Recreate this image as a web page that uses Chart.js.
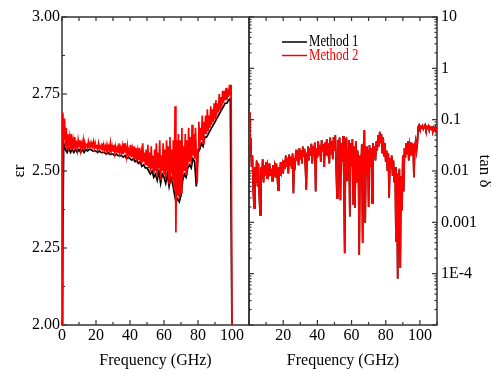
<!DOCTYPE html>
<html>
<head>
<meta charset="utf-8">
<script src="https://cdn.jsdelivr.net/npm/chart.js@4.4.1/dist/chart.umd.min.js"></script>
<style>
  html, body { margin: 0; padding: 0; background: #fff; overflow: hidden; }
  #wrap { position: relative; width: 491px; height: 373px; overflow: hidden; }
  #eps-chart { position: absolute; left: 0; top: 0; }
  #tan-chart { position: absolute; left: 245px; top: 0; }
</style>
</head>
<body>
<div id="wrap">
  <canvas id="eps-chart" width="250" height="373"></canvas>
  <canvas id="tan-chart" width="250" height="373"></canvas>
</div>
<script>
// --- data ---
// frequency grid of the sweep (GHz), 0.5 GHz steps
const freqFine = [
  0, 0.5, 1, 1.5, 2, 2.5, 3, 3.5, 4, 4.5, 5, 5.5, 6, 6.5, 7, 7.5, 8, 8.5, 9, 9.5,
  10, 10.5, 11, 11.5, 12, 12.5, 13, 13.5, 14, 14.5, 15, 15.5, 16, 16.5, 17, 17.5, 18, 18.5, 19, 19.5,
  20, 20.5, 21, 21.5, 22, 22.5, 23, 23.5, 24, 24.5, 25, 25.5, 26, 26.5, 27, 27.5, 28, 28.5, 29, 29.5,
  30, 30.5, 31, 31.5, 32, 32.5, 33, 33.5, 34, 34.5, 35, 35.5, 36, 36.5, 37, 37.5, 38, 38.5, 39, 39.5,
  40, 40.5, 41, 41.5, 42, 42.5, 43, 43.5, 44, 44.5, 45, 45.5, 46, 46.5, 47, 47.5, 48, 48.5, 49, 49.5,
  50, 50.5, 51, 51.5, 52, 52.5, 53, 53.5, 54, 54.5, 55, 55.5, 56, 56.5, 57, 57.5, 58, 58.5, 59, 59.5,
  60, 60.5, 61, 61.5, 62, 62.5, 63, 63.5, 64, 64.5, 65, 65.5, 66, 66.5, 67, 67.5, 68, 68.5, 69, 69.5,
  70, 70.5, 71, 71.5, 72, 72.5, 73, 73.5, 74, 74.5, 75, 75.5, 76, 76.5, 77, 77.5, 78, 78.5, 79, 79.5,
  80, 80.5, 81, 81.5, 82, 82.5, 83, 83.5, 84, 84.5, 85, 85.5, 86, 86.5, 87, 87.5, 88, 88.5, 89, 89.5,
  90, 90.5, 91, 91.5, 92, 92.5, 93, 93.5, 94, 94.5, 95, 95.5, 96, 96.5, 97, 97.5, 98, 98.5, 99, 99.5,
  100, 100.5, 101, 101.5, 102, 102.5, 103, 103.5, 104, 104.5, 105, 105.5, 106, 106.5, 107, 107.5, 108, 108.5, 109, 109.5,
  110
];
// coarser grid (GHz) used for the black permittivity trace
const freqCoarse = [
  0, 1, 2, 3, 4, 5, 6, 7, 8, 9, 10, 11, 12, 13, 14, 15, 16, 17, 18, 19,
  20, 21, 22, 23, 24, 25, 26, 27, 28, 29, 30, 31, 32, 33, 34, 35, 36, 37, 38, 39,
  40, 41, 42, 43, 44, 45, 46, 47, 48, 49, 50, 51, 52, 53, 54, 55, 56, 57, 58, 59,
  60, 61, 62, 63, 64, 65, 66, 67, 68, 69, 70, 71, 72, 73, 74, 75, 76, 77, 78, 79,
  80, 81, 82, 83, 84, 85, 86, 87, 88, 89, 90, 91, 92, 93, 94, 95, 96, 97, 98, 99,
  100
];

// relative permittivity, Method 2 (red), on freqFine 0..100 GHz
const epsMethod2 = [
  1.95, 2.69, 2.60, 2.67, 2.58, 2.64, 2.57, 2.62, 2.59, 2.61,
  2.57, 2.62, 2.58, 2.60, 2.57, 2.61, 2.58, 2.59, 2.57, 2.60,
  2.58, 2.60, 2.57, 2.59, 2.58, 2.60, 2.57, 2.59, 2.58, 2.585,
  2.575, 2.595, 2.58, 2.59, 2.575, 2.59, 2.58, 2.595, 2.575, 2.59,
  2.575, 2.585, 2.57, 2.59, 2.575, 2.58, 2.57, 2.59, 2.57, 2.585,
  2.57, 2.58, 2.565, 2.585, 2.57, 2.58, 2.565, 2.59, 2.565, 2.58,
  2.565, 2.585, 2.56, 2.58, 2.565, 2.575, 2.56, 2.59, 2.56, 2.575,
  2.56, 2.58, 2.555, 2.59, 2.56, 2.575, 2.55, 2.58, 2.555, 2.57,
  2.55, 2.585, 2.545, 2.57, 2.55, 2.58, 2.54, 2.575, 2.545, 2.565,
  2.535, 2.575, 2.54, 2.56, 2.525, 2.59, 2.53, 2.56, 2.52, 2.57,
  2.52, 2.585, 2.51, 2.56, 2.50, 2.58, 2.51, 2.55, 2.49, 2.57,
  2.50, 2.59, 2.48, 2.56, 2.51, 2.60, 2.47, 2.55, 2.50, 2.59,
  2.49, 2.57, 2.47, 2.60, 2.50, 2.58, 2.46, 2.61, 2.49, 2.57,
  2.47, 2.60, 2.44, 2.71, 2.30, 2.60, 2.42, 2.62, 2.41, 2.60,
  2.43, 2.64, 2.48, 2.58, 2.50, 2.62, 2.49, 2.60, 2.52, 2.64,
  2.53, 2.61, 2.52, 2.65, 2.55, 2.62, 2.54, 2.64, 2.56, 2.46,
  2.57, 2.66, 2.58, 2.64, 2.60, 2.68, 2.59, 2.66, 2.62, 2.68,
  2.62, 2.70, 2.63, 2.68, 2.64, 2.71, 2.65, 2.70, 2.66, 2.72,
  2.67, 2.73, 2.68, 2.72, 2.69, 2.75, 2.70, 2.74, 2.71, 2.76,
  2.72, 2.76, 2.73, 2.77, 2.73, 2.765, 2.74, 2.78, 2.745, 2.78,
  1.95
];
// relative permittivity, Method 1 (black), on freqCoarse 0..100 GHz
const epsMethod1 = [
  1.95, 2.59, 2.57, 2.56, 2.575, 2.56, 2.57, 2.56, 2.57, 2.56,
  2.57, 2.56, 2.57, 2.56, 2.57, 2.565, 2.57, 2.57, 2.565, 2.565,
  2.565, 2.56, 2.565, 2.56, 2.56, 2.56, 2.555, 2.56, 2.555, 2.555,
  2.555, 2.55, 2.555, 2.55, 2.55, 2.55, 2.545, 2.55, 2.54, 2.545,
  2.54, 2.535, 2.54, 2.53, 2.535, 2.525, 2.53, 2.515, 2.52, 2.51,
  2.51, 2.50, 2.49, 2.50, 2.48, 2.49, 2.47, 2.50, 2.46, 2.49,
  2.48, 2.46, 2.49, 2.45, 2.48, 2.46, 2.43, 2.40, 2.41, 2.40,
  2.42, 2.47, 2.49, 2.48, 2.51, 2.52, 2.51, 2.54, 2.53, 2.45,
  2.56, 2.57, 2.59, 2.58, 2.61, 2.61, 2.62, 2.63, 2.64, 2.65,
  2.66, 2.67, 2.68, 2.69, 2.70, 2.71, 2.72, 2.72, 2.73, 2.735,
  1.95
];

// loss tangent, Method 2 (red), on freqFine 0..110 GHz
const tanMethod2 = [
  0.14, 0.03, 0.045, 0.012, 0.02, 0.004, 0.0019, 0.012, 0.006, 0.016,
  0.005, 0.014, 0.0035, 0.0014, 0.012, 0.007, 0.017, 0.006, 0.013, 0.008,
  0.015, 0.007, 0.012, 0.009, 0.014, 0.008, 0.011, 0.0065, 0.013, 0.009,
  0.012, 0.0075, 0.014, 0.009, 0.0043, 0.012, 0.008, 0.015, 0.010, 0.013,
  0.009, 0.016, 0.011, 0.02, 0.012, 0.018, 0.009, 0.021, 0.013, 0.019,
  0.011, 0.022, 0.0037, 0.018, 0.014, 0.026, 0.016, 0.024, 0.013, 0.028,
  0.017, 0.025, 0.014, 0.03, 0.019, 0.027, 0.012, 0.0043, 0.022, 0.03,
  0.016, 0.028, 0.02, 0.034, 0.014, 0.03, 0.022, 0.036, 0.004, 0.028,
  0.018, 0.038, 0.021, 0.032, 0.015, 0.04, 0.024, 0.033, 0.012, 0.036,
  0.02, 0.042, 0.026, 0.035, 0.014, 0.045, 0.022, 0.038, 0.017, 0.046,
  0.025, 0.05, 0.012, 0.003, 0.04, 0.02, 0.045, 0.0027, 0.035, 0.015,
  0.048, 0.008, 0.00025, 0.03, 0.045, 0.0063, 0.025, 0.04, 0.0013, 0.035,
  0.012, 0.042, 0.0022, 0.03, 0.0019, 0.038, 0.006, 0.025, 0.015, 0.00023,
  0.02, 0.008, 0.033, 0.0004, 0.028, 0.063, 0.00098, 0.03, 0.009, 0.025,
  0.002, 0.032, 0.012, 0.028, 0.0024, 0.035, 0.02, 0.03, 0.016, 0.038,
  0.025, 0.05, 0.03, 0.058, 0.035, 0.052, 0.022, 0.045, 0.02, 0.035,
  0.015, 0.025, 0.01, 0.022, 0.003, 0.018, 0.012, 0.02, 0.008, 0.016,
  0.006, 0.012, 0.00042, 0.009, 0.00008, 0.007, 0.011, 0.00013, 0.008, 0.0017,
  0.02, 0.004, 0.028, 0.018, 0.035, 0.022, 0.038, 0.016, 0.032, 0.025,
  0.036, 0.02, 0.034, 0.0076, 0.03, 0.038, 0.025, 0.035, 0.072, 0.078,
  0.068, 0.074, 0.07, 0.076, 0.066, 0.072, 0.078, 0.065, 0.073, 0.069,
  0.075, 0.062, 0.071, 0.067, 0.074, 0.058, 0.07, 0.064, 0.072, 0.06,
  0.068
];
// Method 1 sits exactly under Method 2 in the tan δ panel
const tanMethod1 = tanMethod2;

const seriesNames = ['Method 1', 'Method 2'];

// axis ticks
const freqTicks = [0, 20, 40, 60, 80, 100];
const freqLabelsLeft = ['0', '20', '40', '60', '80', '100'];
const freqLabelsRight = ['', '20', '40', '60', '80', '100'];
const freqMinorTicks = [10, 30, 50, 70, 90, 110];
const epsTicks = [2.00, 2.25, 2.50, 2.75, 3.00];
const epsTickLabels = ['2.00', '2.25', '2.50', '2.75', '3.00'];
const epsMinorTicks = [2.125, 2.375, 2.625, 2.875];
const tanTicks = [1e-4, 1e-3, 1e-2, 1e-1, 1, 10];
const tanTickLabels = ['1E-4', '0.001', '0.01', '0.1', '1', '10'];

// log minor tick marks 2..9 in each decade
const tanMajorMarks = [1e-5, 1e-4, 1e-3, 1e-2, 1e-1, 1, 10];
const tanMinorMarks = [];
for (let d = 0; d < tanMajorMarks.length - 1; d++) {
    for (let m = 2; m <= 9; m++) tanMinorMarks.push(m * tanMajorMarks[d]);
}

// --- look ---
const FONT = 'Liberation Serif';
const AXIS_COLOR = '#333';
const BLACK = '#000000';
const RED = '#ff0000';

Chart.defaults.font.family = FONT;
Chart.defaults.font.size = 16;
Chart.defaults.color = '#000';

const toXY = (xs, ys) => ys.map((v, i) => ({ x: xs[i], y: v }));

// frame + inward tick marks, drawn under the data
const frameTicks = {
    id: 'frameTicks',
    beforeDatasetsDraw(chart, args, opts) {
        const { ctx, chartArea: a, scales } = chart;
        ctx.save();
        ctx.strokeStyle = AXIS_COLOR;
        ctx.lineWidth = 1.5;
        ctx.strokeRect(a.left, a.top, a.right - a.left, a.bottom - a.top);
        ctx.lineWidth = 1.2;

        const mark = (side, values, len) => {
            const sc = (side === 'top' || side === 'bottom') ? scales.x : scales.y;
            values.forEach(v => {
                const p = sc.getPixelForValue(v);
                ctx.beginPath();
                if (side === 'bottom') { ctx.moveTo(p, a.bottom); ctx.lineTo(p, a.bottom - len); }
                if (side === 'top') { ctx.moveTo(p, a.top); ctx.lineTo(p, a.top + len); }
                if (side === 'left') { ctx.moveTo(a.left, p); ctx.lineTo(a.left + len, p); }
                if (side === 'right') { ctx.moveTo(a.right, p); ctx.lineTo(a.right - len, p); }
                ctx.stroke();
            });
        };
        (opts.marks || []).forEach(m => mark(m.side, m.values, m.len));
        ctx.restore();
    }
};

// legend inside the tan δ panel
const innerLegend = {
    id: 'innerLegend',
    afterDraw(chart) {
        const { ctx, chartArea: a } = chart;
        ctx.save();
        ctx.font = '16px "' + FONT + '"';
        ctx.textBaseline = 'middle';
        seriesNames.forEach((name, i) => {
            const color = i === 0 ? BLACK : RED;
            const y = a.top + 25 + i * 13.5;
            ctx.strokeStyle = color;
            ctx.lineWidth = 1.5;
            ctx.beginPath();
            ctx.moveTo(a.left + 33, y);
            ctx.lineTo(a.left + 58, y);
            ctx.stroke();
            ctx.save();
            ctx.translate(a.left + 60, y);
            ctx.scale(0.8, 1);
            ctx.fillStyle = color;
            ctx.fillText(name, 0, 0);
            ctx.restore();
        });
        ctx.restore();
    }
};

function lineSet(label, data, color, order) {
    return {
        label: label,
        data: data,
        borderColor: color,
        backgroundColor: color,
        borderWidth: 1.7,
        pointRadius: 0,
        tension: 0,
        order: order
    };
}

function freqAxis(labels) {
    return {
        type: 'linear',
        min: 0,
        max: 110,
        afterBuildTicks: s => { s.ticks = freqTicks.map(v => ({ value: v })); },
        afterFit: s => { s.height = 48; },
        ticks: {
            autoSkip: false,
            maxRotation: 0,
            padding: 1,
            font: { size: 16 },
            callback: (v, i) => labels[i]
        },
        grid: { display: false, drawTicks: false },
        border: { display: false },
        title: { display: true, text: 'Frequency (GHz)', font: { size: 16 }, padding: { top: 0, bottom: 3 } }
    };
}

// --- left panel: permittivity ---
new Chart(document.getElementById('eps-chart'), {
    type: 'line',
    data: {
        datasets: [
            lineSet(seriesNames[0], toXY(freqCoarse, epsMethod1), BLACK, 1),
            lineSet(seriesNames[1], toXY(freqFine, epsMethod2), RED, 0)
        ]
    },
    options: {
        responsive: false,
        animation: false,
        devicePixelRatio: 1,
        layout: { padding: { top: 17, right: 1, left: 0, bottom: 0 } },
        scales: {
            x: freqAxis(freqLabelsLeft),
            y: {
                type: 'linear',
                min: 2,
                max: 3,
                afterBuildTicks: s => { s.ticks = epsTicks.map(v => ({ value: v })); },
                afterFit: s => { s.width = 62; },
                ticks: { padding: 2, font: { size: 16 }, callback: (v, i) => epsTickLabels[i] },
                grid: { display: false, drawTicks: false },
                border: { display: false },
                title: { display: true, text: 'εr', font: { size: 17 }, padding: { top: 9, bottom: 0 } }
            }
        },
        plugins: {
            legend: { display: false },
            tooltip: { enabled: false },
            frameTicks: {
                marks: [
                    { side: 'bottom', values: freqTicks, len: 5 },
                    { side: 'bottom', values: freqMinorTicks, len: 3 },
                    { side: 'top', values: freqTicks, len: 4 },
                    { side: 'top', values: freqMinorTicks, len: 4 },
                    { side: 'left', values: epsTicks, len: 5 },
                    { side: 'left', values: epsMinorTicks, len: 3 }
                ]
            }
        }
    },
    plugins: [frameTicks]
});

// --- right panel: loss tangent ---
new Chart(document.getElementById('tan-chart'), {
    type: 'line',
    data: {
        datasets: [
            lineSet(seriesNames[0], toXY(freqFine, tanMethod1), BLACK, 1),
            lineSet(seriesNames[1], toXY(freqFine, tanMethod2), RED, 0)
        ]
    },
    options: {
        responsive: false,
        animation: false,
        devicePixelRatio: 1,
        layout: { padding: { top: 17, right: 0, left: 4, bottom: 0 } },
        scales: {
            x: freqAxis(freqLabelsRight),
            y: {
                type: 'logarithmic',
                position: 'right',
                min: 1e-5,
                max: 10,
                afterBuildTicks: s => { s.ticks = tanTicks.map(v => ({ value: v })); },
                afterFit: s => { s.width = 58; },
                ticks: { padding: 4, font: { size: 16 }, callback: (v, i) => tanTickLabels[i] },
                grid: { display: false, drawTicks: false },
                border: { display: false },
                title: { display: true, text: 'tan δ', font: { size: 17 }, padding: { top: 0, bottom: 0 } }
            }
        },
        plugins: {
            legend: { display: false },
            tooltip: { enabled: false },
            frameTicks: {
                marks: [
                    { side: 'bottom', values: freqTicks, len: 5 },
                    { side: 'bottom', values: freqMinorTicks, len: 3 },
                    { side: 'top', values: freqTicks, len: 4 },
                    { side: 'top', values: freqMinorTicks, len: 4 },
                    { side: 'left', values: tanMajorMarks, len: 5 },
                    { side: 'left', values: tanMinorMarks, len: 2.5 },
                    { side: 'right', values: tanMajorMarks, len: 5 },
                    { side: 'right', values: tanMinorMarks, len: 2.5 }
                ]
            }
        }
    },
    plugins: [frameTicks, innerLegend]
});
</script>
</body>
</html>
